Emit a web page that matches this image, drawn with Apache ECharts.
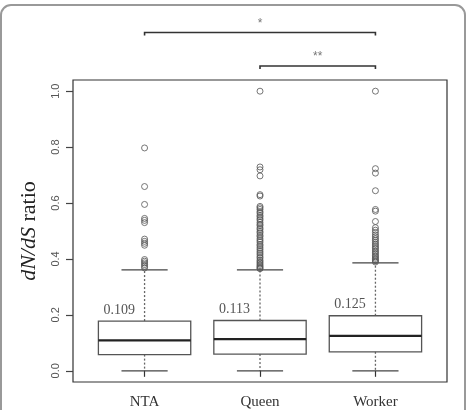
<!DOCTYPE html>
<html>
<head>
<meta charset="utf-8">
<script src="https://cdn.jsdelivr.net/npm/echarts@6/dist/echarts.min.js"></script>
<style>
  html, body { margin: 0; padding: 0; background: #fff; }
  #chart { width: 467px; height: 410px; }
</style>
</head>
<body>
<div id="chart"></div>
<script>
// groups and box statistics (whisker low, q1, median, q3, whisker high)
var categories = ['NTA', 'Queen', 'Worker']
var whiskerLow = [0.0, 0.0, 0.0]
var q1 = [0.058, 0.060, 0.068]
var medians = [0.109, 0.113, 0.125]
var q3 = [0.178, 0.180, 0.197]
var whiskerHigh = [0.361, 0.361, 0.386]
var medianLabels = ['0.109', '0.113', '0.125']

// outliers
var outliersNTA = [0.797, 0.659, 0.595, 0.545, 0.538, 0.530, 0.471, 0.463, 0.456, 0.449,
    0.398, 0.392, 0.386, 0.380, 0.374, 0.368]
var outliersQueen = [1.0, 0.729, 0.719, 0.697, 0.630, 0.625, 0.588, 0.583, 0.577, 0.569,
    0.564, 0.556, 0.551, 0.544, 0.539, 0.531, 0.524, 0.519, 0.511, 0.506, 0.498, 0.493,
    0.485, 0.480, 0.472, 0.466, 0.460, 0.452, 0.447, 0.440, 0.434, 0.427, 0.421, 0.415,
    0.408, 0.403, 0.396, 0.391, 0.386, 0.381, 0.376, 0.372, 0.368, 0.365]
var outliersWorker = [1.0, 0.723, 0.707, 0.644, 0.577, 0.571, 0.534, 0.512, 0.503, 0.495,
    0.486, 0.479, 0.472, 0.466, 0.459, 0.453, 0.447, 0.441, 0.436, 0.429, 0.424, 0.418,
    0.412, 0.407, 0.402, 0.397, 0.393, 0.389]

// significance brackets
var bracketFrom = [1, 2]
var bracketTo = [3, 3]
var bracketLevel = [1.21, 1.09]
var bracketText = ['*', '**']

var yTicks = [0, 0.2, 0.4, 0.6, 0.8, 1.0]

var boxData = categories.map(function (c, i) {
    return [i + 1, whiskerLow[i], q1[i], medians[i], q3[i], whiskerHigh[i], medianLabels[i]]
})
var outlierData = []
;[outliersNTA, outliersQueen, outliersWorker].forEach(function (arr, i) {
    arr.forEach(function (v) { outlierData.push([i + 1, v]) })
})
var bracketData = bracketFrom.map(function (f, i) {
    return [f, bracketTo[i], bracketLevel[i], bracketText[i]]
})

var chart = echarts.init(document.getElementById('chart'), null, { renderer: 'canvas' })

function renderBox(params, api) {
    var x = api.value(0)
    var half = 0.4, cap = 0.2
    var pLow = api.coord([x, api.value(1)])
    var pQ1 = api.coord([x, api.value(2)])
    var pMed = api.coord([x, api.value(3)])
    var pQ3 = api.coord([x, api.value(4)])
    var pHigh = api.coord([x, api.value(5)])
    var left = api.coord([x - half, 0])[0]
    var right = api.coord([x + half, 0])[0]
    var capL = api.coord([x - cap, 0])[0]
    var capR = api.coord([x + cap, 0])[0]
    var labelX = api.coord([x - 0.22, 0])[0]
    var boxLine = { stroke: '#555', lineWidth: 1.3, fill: null }
    var dotted = { stroke: '#666', lineWidth: 1.3, lineDash: [2, 2] }
    return {
        type: 'group',
        children: [
            { type: 'line', shape: { x1: pQ1[0], y1: pQ1[1], x2: pLow[0], y2: pLow[1] }, style: dotted },
            { type: 'line', shape: { x1: pQ3[0], y1: pQ3[1], x2: pHigh[0], y2: pHigh[1] }, style: dotted },
            { type: 'line', shape: { x1: capL, y1: pLow[1], x2: capR, y2: pLow[1] }, style: { stroke: '#444', lineWidth: 1.3 } },
            { type: 'line', shape: { x1: capL, y1: pHigh[1], x2: capR, y2: pHigh[1] }, style: { stroke: '#444', lineWidth: 1.3 } },
            { type: 'rect', shape: { x: left, y: pQ3[1], width: right - left, height: pQ1[1] - pQ3[1] }, style: boxLine },
            { type: 'line', shape: { x1: left, y1: pMed[1], x2: right, y2: pMed[1] }, style: { stroke: '#222', lineWidth: 2.2 } },
            {
                type: 'text',
                style: {
                    x: labelX, y: pQ3[1] - 11, text: api.value(6),
                    align: 'center', verticalAlign: 'middle',
                    font: '14px "Liberation Serif", serif', fill: '#555'
                }
            }
        ]
    }
}

function renderBracket(params, api) {
    var a = api.coord([api.value(0), api.value(2)])
    var b = api.coord([api.value(1), api.value(2)])
    var mid = (a[0] + b[0]) / 2
    return {
        type: 'group',
        children: [
            {
                type: 'polyline',
                shape: { points: [[a[0], a[1] + 3], [a[0], a[1]], [b[0], b[1]], [b[0], b[1] + 3]] },
                style: { stroke: '#333', lineWidth: 1.6, fill: null }
            },
            {
                type: 'text',
                style: {
                    x: mid, y: a[1] - 9, text: api.value(3),
                    align: 'center', verticalAlign: 'middle',
                    font: '12px "Liberation Sans", sans-serif', fill: '#777'
                }
            }
        ]
    }
}

chart.setOption({
    animation: false,
    backgroundColor: '#fff',
    graphic: [{
        type: 'rect',
        shape: { x: 1, y: 5, width: 464, height: 440, r: 10 },
        style: { fill: null, stroke: '#999', lineWidth: 2 },
        silent: true
    }],
    grid: {
        left: 73, right: 20, top: 80, bottom: 28,
        show: true, borderColor: '#333', borderWidth: 1.2, backgroundColor: 'transparent'
    },
    xAxis: {
        type: 'value',
        min: 0.38, max: 3.62,
        axisLine: { show: false },
        splitLine: { show: false },
        axisTick: { show: true, customValues: [1, 2, 3], length: 6, lineStyle: { color: '#333', width: 1.2 } },
        axisLabel: {
            customValues: [1, 2, 3],
            formatter: function (v) { return categories[Math.round(v) - 1] },
            margin: 13,
            fontFamily: '"Liberation Serif", serif',
            fontSize: 15,
            color: '#333'
        }
    },
    yAxis: {
        type: 'value',
        min: -0.04, max: 1.04,
        axisLine: { show: false },
        splitLine: { show: false },
        axisTick: { show: true, customValues: yTicks, length: 7, lineStyle: { color: '#444', width: 1.2 } },
        axisLabel: {
            customValues: yTicks,
            formatter: function (v) { return v.toFixed(1) },
            rotate: 90,
            margin: 12,
            fontFamily: '"Liberation Sans", sans-serif',
            fontSize: 11,
            color: '#555'
        },
        name: '{i|dN/dS} ratio',
        nameLocation: 'middle',
        nameRotate: 90,
        nameGap: 33,
        nameTextStyle: {
            fontFamily: '"Liberation Serif", serif',
            fontSize: 22,
            color: '#222',
            rich: {
                i: { fontFamily: '"Liberation Serif", serif', fontSize: 22, fontStyle: 'italic', color: '#222' }
            }
        }
    },
    series: [
        {
            type: 'custom',
            renderItem: renderBox,
            data: boxData,
            encode: { x: 0, y: [1, 5] },
            z: 2
        },
        {
            type: 'scatter',
            data: outlierData,
            symbol: 'circle',
            symbolSize: 6,
            itemStyle: { color: 'rgba(255,255,255,0)', borderColor: '#555', borderWidth: 1 },
            z: 3
        },
        {
            type: 'custom',
            renderItem: renderBracket,
            data: bracketData,
            clip: false,
            encode: { x: [0, 1], y: 2 },
            z: 4
        }
    ]
})
</script>
</body>
</html>
